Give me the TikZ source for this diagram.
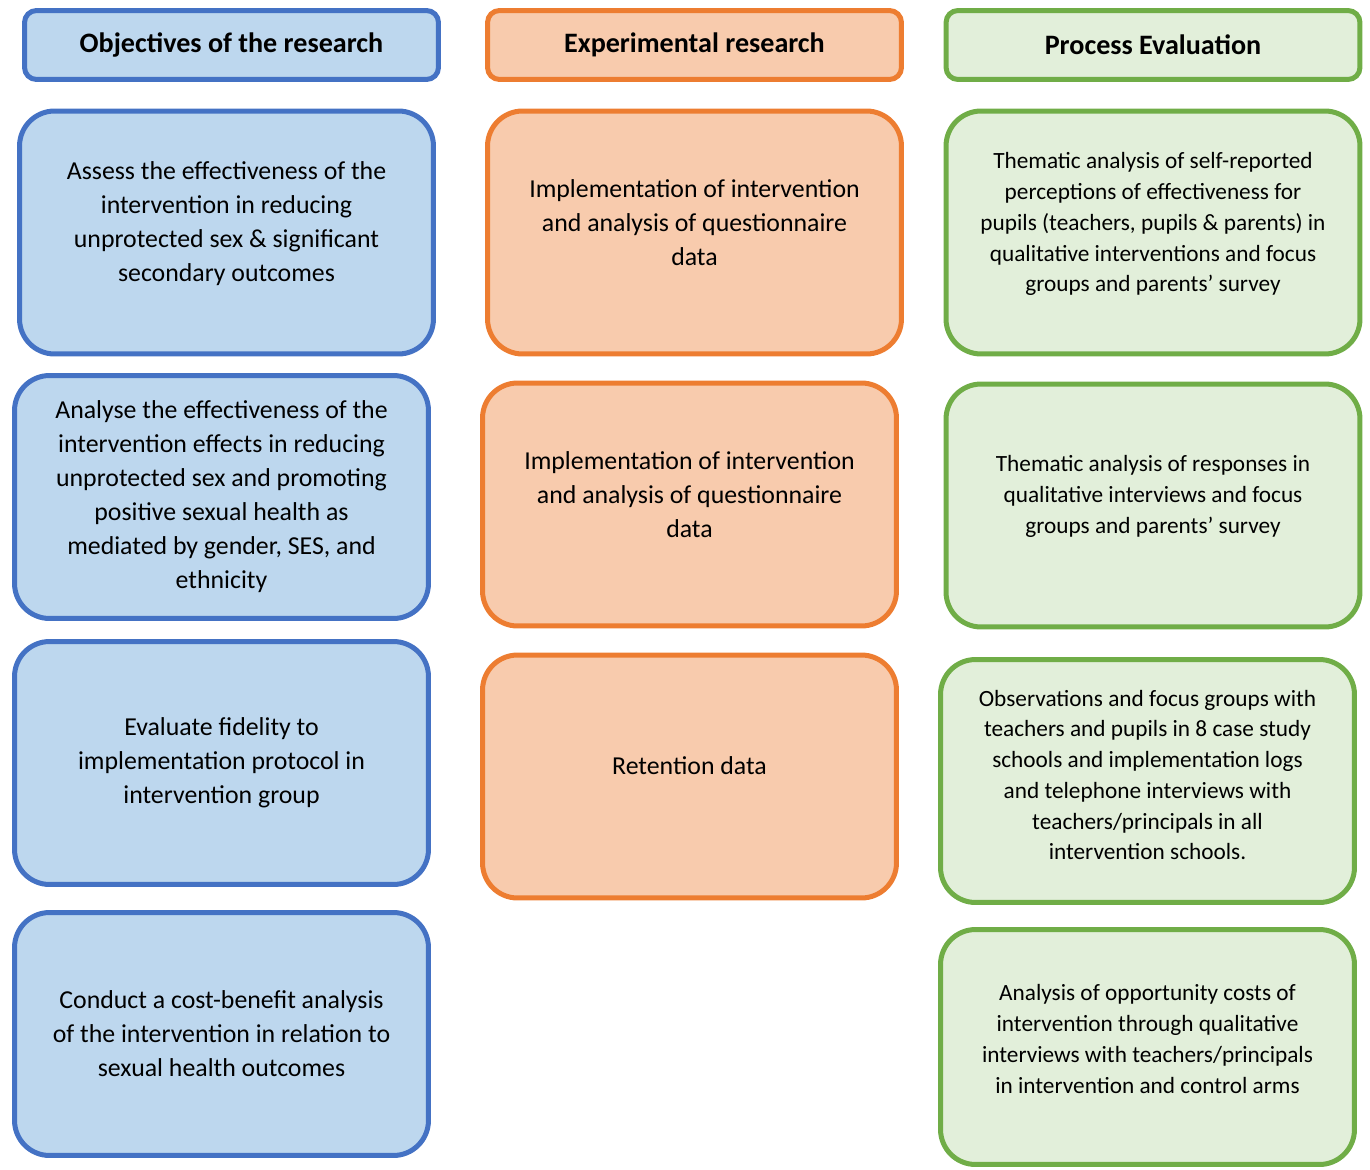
\documentclass[tikz,border=0pt]{standalone}
\usepackage{fontspec}
\setmainfont{Carlito}
\usepackage{tikz}

\definecolor{objline}{HTML}{4472C4}
\definecolor{objfill}{HTML}{BDD7EE}
\definecolor{expline}{HTML}{ED7D31}
\definecolor{expfill}{HTML}{F8CBAD}
\definecolor{procline}{HTML}{70AD47}
\definecolor{procfill}{HTML}{E2EFDA}

\begin{document}
\begin{tikzpicture}[x=0.02cm, y=-0.02cm,
  box/.style={draw, line width=0.1cm, rounded corners=0.7cm, align=center,
    minimum width=8.28cm, minimum height=4.86cm, inner sep=0pt, font=\fontsize{14.7}{19.35}\selectfont},
  headbox/.style={box, rounded corners=0.24cm, minimum height=1.38cm, font=\fontsize{16}{19}\selectfont\bfseries},
  objbox/.style={box, draw=objline, fill=objfill},
  expbox/.style={box, draw=expline, fill=expfill},
  procbox/.style={box, draw=procline, fill=procfill, font=\fontsize{13.25}{17.5}\selectfont},
  lift/.style={text depth=#1}]
\useasboundingbox (0,0) rectangle (1370,1170);

% Column headers
\node[headbox, draw=objline, fill=objfill] (objhead) at (231.5,45) {Objectives of the research};
\node[headbox, draw=expline, fill=expfill] (exphead) at (694.5,45) {Experimental research};
\node[headbox, draw=procline, fill=procfill] (prochead) at (1153,45) {Process Evaluation};

% Objectives of the research
\node[objbox, lift=0.42cm] (obj1) at (226.5,232.5) {Assess the effectiveness of the\\intervention in reducing\\unprotected sex \& significant\\secondary outcomes};
\node[objbox] (obj2) at (221.5,497) {Analyse the effectiveness of the\\intervention effects in reducing\\unprotected sex and promoting\\positive sexual health as\\mediated by gender, SES, and\\ethnicity};
\node[objbox] (obj3) at (221.5,763) {Evaluate fidelity to\\implementation protocol in\\intervention group};
\node[objbox] (obj4) at (221.5,1034) {Conduct a cost-benefit analysis\\of the intervention in relation to\\sexual health outcomes};

% Experimental research
\node[expbox, lift=0.4cm] (exp1) at (694.5,232.5) {Implementation of intervention\\and analysis of questionnaire\\data};
\node[expbox, lift=0.4cm] (exp2) at (689.5,504.5) {Implementation of intervention\\and analysis of questionnaire\\data};
\node[expbox, lift=0.44cm] (exp3) at (689.5,776.5) {Retention data};

% Process evaluation
\node[procbox, lift=0.41cm] (proc1) at (1153,232.5) {Thematic analysis of self-reported\\perceptions of effectiveness for\\pupils (teachers, pupils \& parents) in\\qualitative interventions and focus\\groups and parents’ survey};
\node[procbox, lift=0.45cm] (proc2) at (1153,505.5) {Thematic analysis of responses in\\qualitative interviews and focus\\groups and parents’ survey};
\node[procbox, lift=0.24cm] (proc3) at (1147.5,781) {Observations and focus groups with\\teachers and pupils in 8 case study\\schools and implementation logs\\and telephone interviews with\\teachers/principals in all\\intervention schools.};
\node[procbox, lift=0.32cm, minimum height=4.7cm] (proc4) at (1147.5,1047) {Analysis of opportunity costs of\\intervention through qualitative\\interviews with teachers/principals\\in intervention and control arms};
\end{tikzpicture}
\end{document}
